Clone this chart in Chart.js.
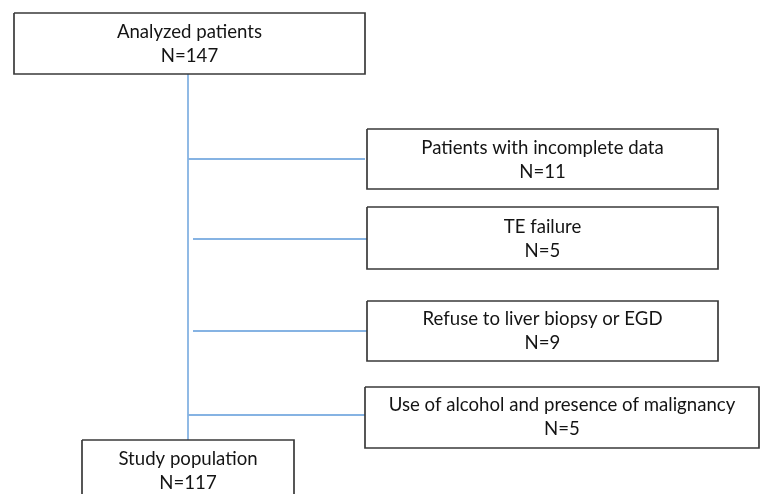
<!DOCTYPE html>
<html>
<head>
<meta charset="utf-8">
<script src="https://cdn.jsdelivr.net/npm/chart.js@4/dist/chart.umd.min.js"></script>
<style>
html,body{margin:0;padding:0;background:#fff;}
#wrap{width:761px;height:494px;}
</style>
</head>
<body>
<div id="wrap"><canvas id="c" width="761" height="494"></canvas></div>
<script>
// ---- data ----
const boxTitles = ["Analyzed patients", "Patients with incomplete data", "TE failure",
  "Refuse to liver biopsy or EGD", "Use of alcohol and presence of malignancy", "Study population"];
const boxCounts = [147, 11, 5, 9, 5, 117];

// ---- layout (diagram coordinates) ----
const boxRects = [
  [14, 13, 365, 74],
  [367, 129, 718, 189],
  [367, 207, 718, 269],
  [367, 301, 718, 361],
  [365, 387, 759, 448],
  [82, 440, 294, 520]
];
const textLines = [[32, 56], [148, 172], [227, 251], [319, 343], [405, 429], [459, 483]];
const trunkX = 188;
const trunk = [[trunkX, 74], [trunkX, 440]];
const branchY = [159, 239, 331, 415];
const branchX0 = [188, 193, 193, 188];
const branchX1 = [365, 367, 367, 365];

const datasets = [];
boxRects.forEach(r => {
  datasets.push({
    data: [{x:r[0],y:r[1]},{x:r[2],y:r[1]},{x:r[2],y:r[3]},{x:r[0],y:r[3]},{x:r[0],y:r[1]}],
    showLine: true, borderColor: '#3a3a3a', borderWidth: 1.7, pointRadius: 0, fill: false, tension: 0
  });
});
datasets.push({
  data: trunk.map(p => ({x:p[0], y:p[1]})),
  showLine: true, borderColor: '#86b3e3', borderWidth: 1.8, pointRadius: 0
});
branchY.forEach((y, i) => {
  datasets.push({
    data: [{x:branchX0[i], y}, {x:branchX1[i], y}],
    showLine: true, borderColor: '#86b3e3', borderWidth: 1.8, pointRadius: 0
  });
});

const textPlugin = {
  id: 'boxText',
  afterDatasetsDraw(chart) {
    const {ctx, scales:{x, y}} = chart;
    ctx.save();
    ctx.fillStyle = '#141414';
    ctx.font = '18.6px Lato';
    ctx.textAlign = 'center';
    ctx.textBaseline = 'middle';
    boxRects.forEach((r, i) => {
      const cx = x.getPixelForValue((r[0] + r[2]) / 2);
      ctx.fillText(boxTitles[i], cx, y.getPixelForValue(textLines[i][0]));
      ctx.fillText('N=' + boxCounts[i], cx, y.getPixelForValue(textLines[i][1]));
    });
    ctx.restore();
  }
};

new Chart(document.getElementById('c'), {
  type: 'scatter',
  data: { datasets },
  options: {
    responsive: false,
    animation: false,
    layout: { padding: 0 },
    plugins: { legend: { display: false }, tooltip: { enabled: false } },
    scales: {
      x: { type: 'linear', min: 0, max: 761, display: false },
      y: { type: 'linear', min: 0, max: 494, reverse: true, display: false }
    }
  },
  plugins: [textPlugin]
});
</script>
</body>
</html>
